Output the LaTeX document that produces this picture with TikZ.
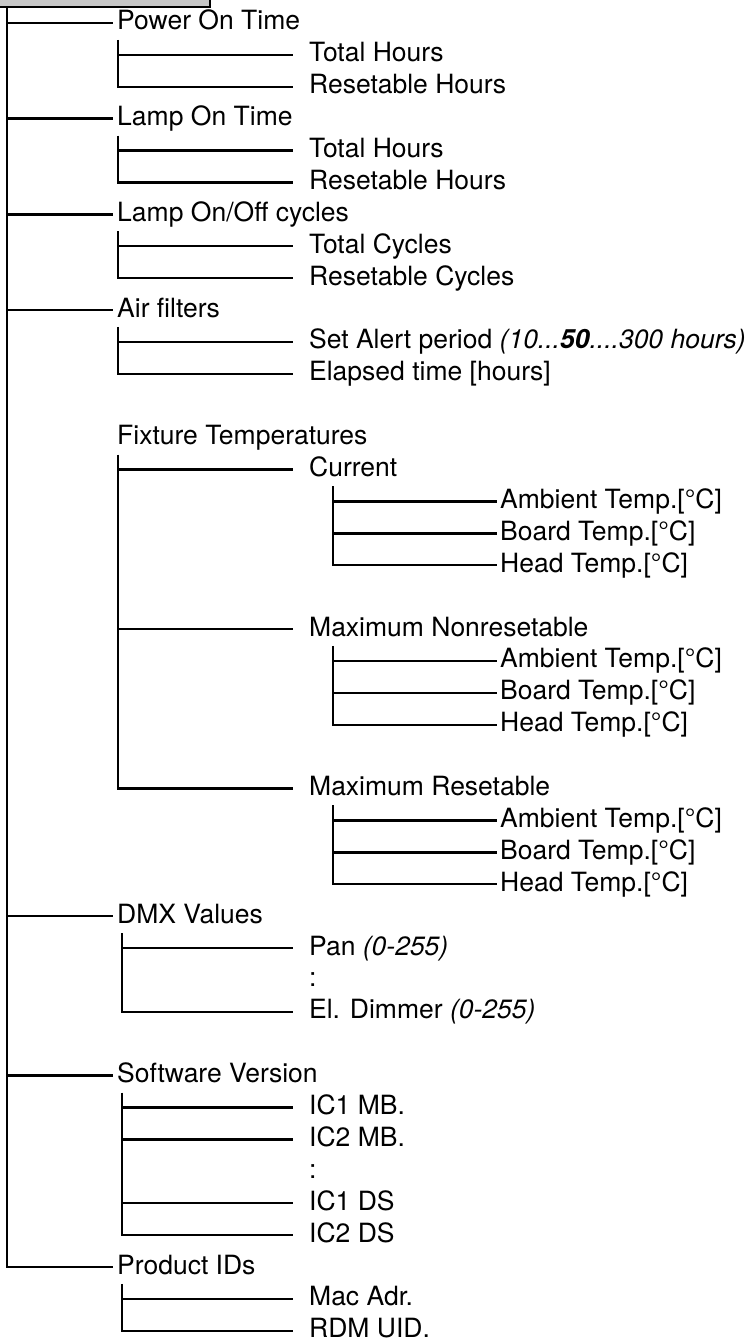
\documentclass[tikz,border=0pt]{standalone}
\usepackage{fontspec}
\setmainfont{TeX Gyre Heros}
\definecolor{boxgray}{gray}{0.78}

\begin{document}
\begin{tikzpicture}
  [x=1pt,y=-31.9pt,
   link/.style={line width=2.4pt},
   boxN/.style={draw,line width=2.4pt,fill=boxgray},
   baseN/.style={anchor=west,inner ysep=0pt,text height=14pt,text depth=0pt,
                 font=\fontsize{26.5pt}{30pt}\selectfont},
   topN/.style={baseN,inner xsep=4pt},
   subN/.style={baseN,inner xsep=16pt},
   leafN/.style={baseN,inner xsep=3pt}]

  \useasboundingbox (0,-0.72) rectangle (752,41.32);

  % first level
  \node[topN] (power)   at (113,0)  {Power On Time};
  \node[topN] (lamp)    at (113,3)  {Lamp On Time};
  \node[topN] (cycles)  at (113,6)  {Lamp On/Off cycles};
  \node[topN] (filter)  at (113,9)  {Air filters};
  \node[topN] (temp)    at (113,13) {Fixture Temperatures};
  \node[topN] (dmx)     at (113,28) {DMX Values};
  \node[topN] (soft)    at (113,33) {Software Version};
  \node[topN] (prod)    at (113,39) {Product IDs};

  % second level
  \node[subN] (phtot)   at (293,1)  {Total Hours};
  \node[subN] (phres)   at (293,2)  {Resetable Hours};
  \node[subN] (lhtot)   at (293,4)  {Total Hours};
  \node[subN] (lhres)   at (293,5)  {Resetable Hours};
  \node[subN] (lctot)   at (293,7)  {Total Cycles};
  \node[subN] (lcres)   at (293,8)  {Resetable Cycles};
  \node[subN] (alert)   at (293,10) {Set Alert period \textit{(10...\textbf{50}....300 hours)}};
  \node[subN] (elapsed) at (293,11) {Elapsed time [hours]};
  \node[subN] (cur)     at (293,14) {Current};
  \node[subN] (maxn)    at (293,19) {Maximum Nonresetable};
  \node[subN] (maxr)    at (293,24) {Maximum Resetable};
  \node[subN] (pan)     at (293,29) {Pan \textit{(0-255)}};
  \node[subN] (dmxdots) at (293,30) {:};
  \node[subN] (dimmer)  at (293,31) {El. Dimmer \textit{(0-255)}};
  \node[subN] (icmb1)   at (293,34) {IC1 MB.};
  \node[subN] (icmb2)   at (293,35) {IC2 MB.};
  \node[subN] (softdots) at (293,36) {:};
  \node[subN] (icds1)   at (293,37) {IC1 DS};
  \node[subN] (icds2)   at (293,38) {IC2 DS};
  \node[subN] (mac)     at (293,40) {Mac Adr.};
  \node[subN] (rdm)     at (293,41) {RDM UID.};

  % third level
  \node[leafN] (curamb)    at (497,15) {Ambient Temp.[°C]};
  \node[leafN] (curboard)  at (497,16) {Board Temp.[°C]};
  \node[leafN] (curhead)   at (497,17) {Head Temp.[°C]};
  \node[leafN] (maxnamb)   at (497,20) {Ambient Temp.[°C]};
  \node[leafN] (maxnboard) at (497,21) {Board Temp.[°C]};
  \node[leafN] (maxnhead)  at (497,22) {Head Temp.[°C]};
  \node[leafN] (maxramb)   at (497,25) {Ambient Temp.[°C]};
  \node[leafN] (maxrboard) at (497,26) {Board Temp.[°C]};
  \node[leafN] (maxrhead)  at (497,27) {Head Temp.[°C]};

  % menu heading box and trunk
  \coordinate (root) at (7,-0.5);
  \draw [link] (root) |- (prod.west);
  \draw [boxN] (-20,-3) rectangle (210,-0.5);

  % trunk branches
  \draw [link] (root |- power.west)  -- (power.west);
  \draw [link] (root |- lamp.west)   -- (lamp.west);
  \draw [link] (root |- cycles.west) -- (cycles.west);
  \draw [link] (root |- filter.west) -- (filter.west);
  \draw [link] (root |- dmx.west)    -- (dmx.west);
  \draw [link] (root |- soft.west)   -- (soft.west);

  % second level branches
  \coordinate (powerV)  at ([shift={(5,0.53)}]power.west);
  \coordinate (lampV)   at ([shift={(5,0.53)}]lamp.west);
  \coordinate (cyclesV) at ([shift={(5,0.53)}]cycles.west);
  \coordinate (filterV) at ([shift={(5,0.53)}]filter.west);
  \coordinate (tempV)   at ([shift={(5,0.53)}]temp.west);
  \coordinate (dmxV)    at ([shift={(9,0.53)}]dmx.west);
  \coordinate (softV)   at ([shift={(9,0.53)}]soft.west);
  \coordinate (prodV)   at ([shift={(9,0.53)}]prod.west);

  \draw [link] (powerV) |- (phres.west);
  \draw [link] (powerV |- phtot.west) -- (phtot.west);
  \draw [link] (lampV) |- (lhres.west);
  \draw [link] (lampV |- lhtot.west) -- (lhtot.west);
  \draw [link] (cyclesV) |- (lcres.west);
  \draw [link] (cyclesV |- lctot.west) -- (lctot.west);
  \draw [link] (filterV) |- (elapsed.west);
  \draw [link] (filterV |- alert.west) -- (alert.west);
  \draw [link] (tempV) |- (maxr.west);
  \draw [link] (tempV |- cur.west) -- (cur.west);
  \draw [link] (tempV |- maxn.west) -- (maxn.west);
  \draw [link] (dmxV) |- (dimmer.west);
  \draw [link] (dmxV |- pan.west) -- (pan.west);
  \draw [link] (softV) |- (icds2.west);
  \draw [link] (softV |- icmb1.west) -- (icmb1.west);
  \draw [link] (softV |- icmb2.west) -- (icmb2.west);
  \draw [link] (softV |- icds1.west) -- (icds1.west);
  \draw [link] (prodV) |- (rdm.west);
  \draw [link] (prodV |- mac.west) -- (mac.west);

  % third level branches
  \coordinate (curV)  at ([shift={(40,0.53)}]cur.west);
  \coordinate (maxnV) at ([shift={(40,0.53)}]maxn.west);
  \coordinate (maxrV) at ([shift={(40,0.53)}]maxr.west);

  \draw [link] (curV) |- (curhead.west);
  \draw [link] (curV |- curamb.west) -- (curamb.west);
  \draw [link] (curV |- curboard.west) -- (curboard.west);
  \draw [link] (maxnV) |- (maxnhead.west);
  \draw [link] (maxnV |- maxnamb.west) -- (maxnamb.west);
  \draw [link] (maxnV |- maxnboard.west) -- (maxnboard.west);
  \draw [link] (maxrV) |- (maxrhead.west);
  \draw [link] (maxrV |- maxramb.west) -- (maxramb.west);
  \draw [link] (maxrV |- maxrboard.west) -- (maxrboard.west);

\end{tikzpicture}
\end{document}
